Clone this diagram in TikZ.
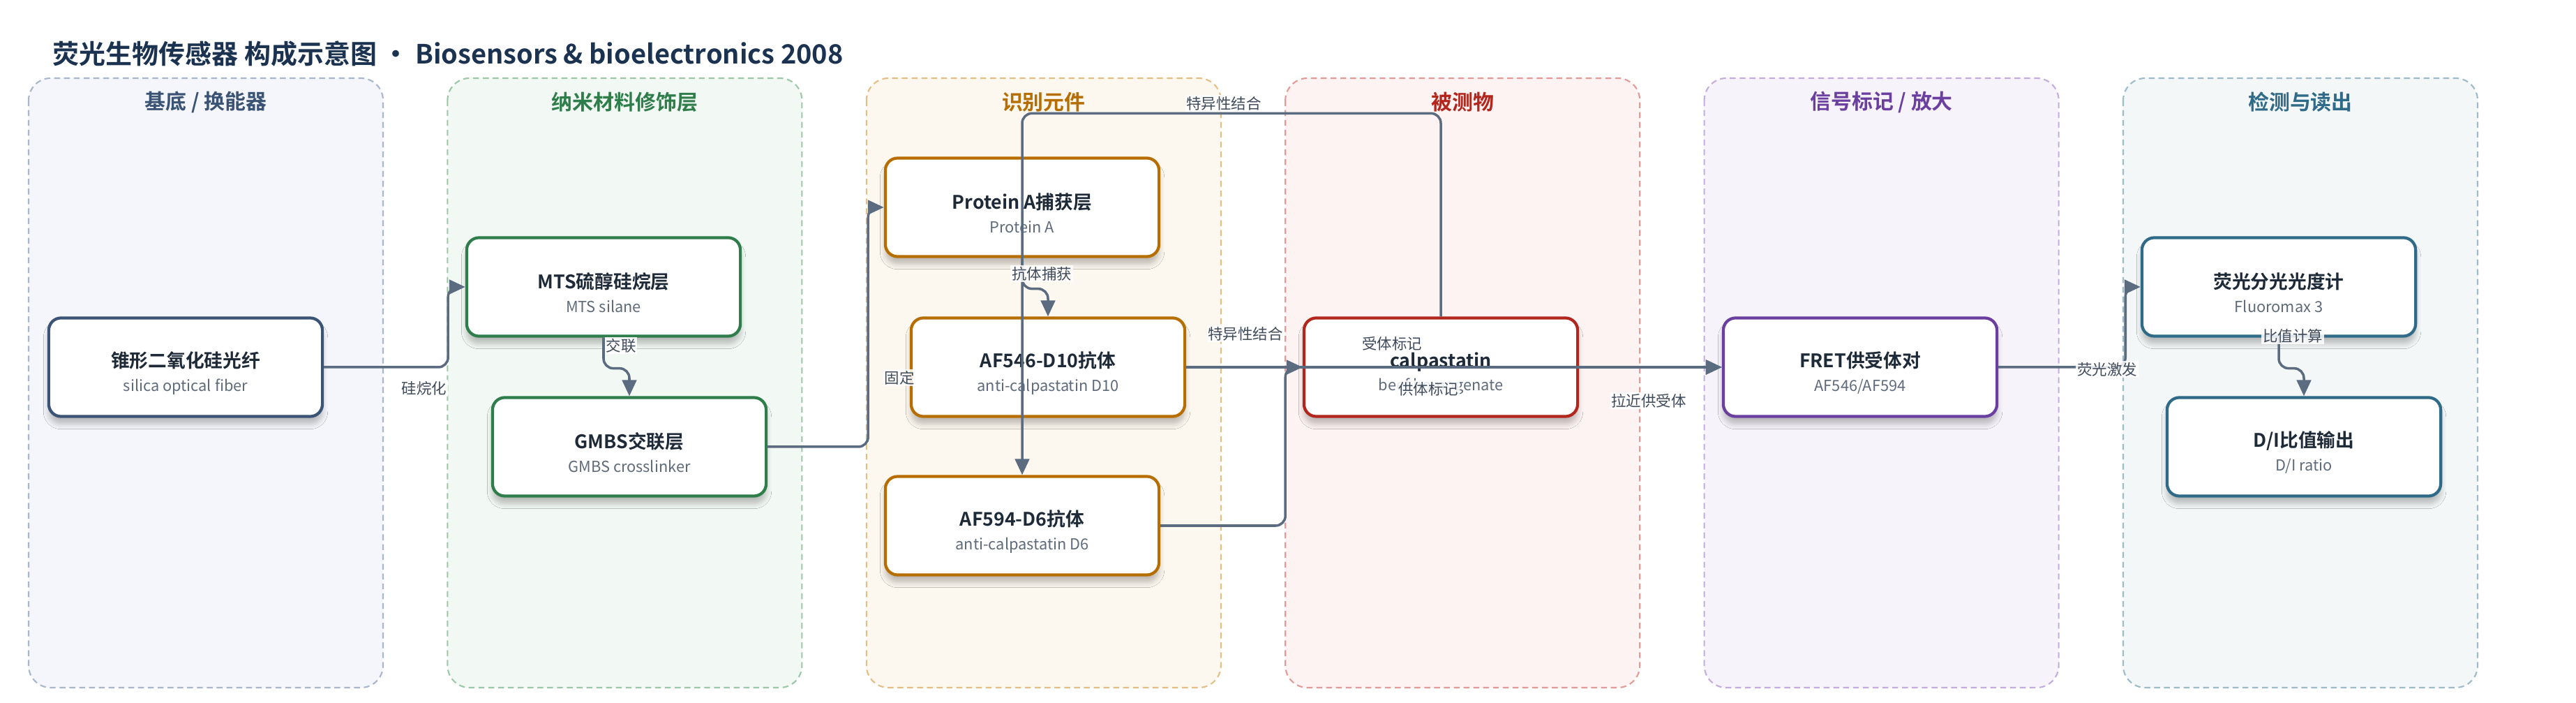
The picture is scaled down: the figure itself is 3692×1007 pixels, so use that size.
\documentclass[tikz,border=0pt]{standalone}
\usepackage{fontspec}
\setmainfont{Noto Sans CJK SC}[BoldFont={Noto Sans CJK SC Bold}]
\usetikzlibrary{arrows.meta, positioning, shadows.blur}

\definecolor{titlenavy}{HTML}{1B3350}
\definecolor{linkgray}{HTML}{5B6B80}
\definecolor{blocktitle}{HTML}{1E2A38}
\definecolor{blocksub}{HTML}{5F6B7A}
\definecolor{lblgray}{HTML}{3F4A5A}
% lane colours: fill / dashed line / header (and block border)
\definecolor{fillA}{HTML}{F5F6FB}\definecolor{lineA}{HTML}{A9B6CC}\definecolor{headA}{HTML}{3B5375}
\definecolor{fillB}{HTML}{F2F8F3}\definecolor{lineB}{HTML}{9CC7A9}\definecolor{headB}{HTML}{2E7D4A}
\definecolor{fillC}{HTML}{FDF8EF}\definecolor{lineC}{HTML}{E3BF86}\definecolor{headC}{HTML}{B76E00}
\definecolor{fillD}{HTML}{FDF3F2}\definecolor{lineD}{HTML}{E49B97}\definecolor{headD}{HTML}{B3261E}
\definecolor{fillE}{HTML}{F7F3FB}\definecolor{lineE}{HTML}{C3ADDF}\definecolor{headE}{HTML}{6B3FA0}
\definecolor{fillF}{HTML}{F3F7F8}\definecolor{lineF}{HTML}{9DBBC9}\definecolor{headF}{HTML}{2F6B88}

\newcommand{\blocktext}[2]{{\bfseries\fontsize{7.6}{8.8}\selectfont\color{blocktitle}\rule{0pt}{11.2pt}#1}\\[0.8pt]{\color{blocksub}#2}}

\tikzset{
  lane/.style={dash pattern=on 2.4pt off 1.6pt, line width=0.6pt, rounded corners=9pt},
  lanehead/.style={font=\bfseries\fontsize{8.5}{10}\selectfont},
  block/.style={draw, fill=white, line width=1.2pt, rounded corners=5pt,
    minimum width=3.92cm, minimum height=1.41cm, align=center, inner sep=0pt,
    font=\fontsize{6.2}{8.8}\selectfont,
    blur shadow={shadow xshift=0pt, shadow yshift=-3pt, shadow blur steps=6, shadow opacity=25}},
  link/.style={draw=linkgray, line width=1pt, rounded corners=4pt, -{Triangle[length=6.5pt,width=5.8pt]}},
  lbl/.style={fill=white, fill opacity=0.85, text opacity=1, text=lblgray,
    font=\fontsize{6.1}{7}\selectfont, inner sep=0.5pt},
}

\begin{document}
\begin{tikzpicture}[x=0.01cm, y=-0.01cm]
\useasboundingbox (0,0) rectangle (3692,1007);
\fill[white] (0,0) rectangle (3692,1007);

\node[anchor=west, inner sep=0pt, text=titlenavy, font=\bfseries\fontsize{10.8}{13}\selectfont] (title) at (75,77)
  {荧光生物传感器 构成示意图 · Biosensors \& bioelectronics 2008};

% lanes
\foreach \i/\sfx/\head in {0/A/{基底 / 换能器}, 1/B/纳米材料修饰层, 2/C/识别元件, 3/D/被测物, 4/E/{信号标记 / 放大}, 5/F/检测与读出} {
  \draw[lane, fill=fill\sfx, draw=line\sfx] ({41+600.4*\i},112) rectangle ++(508,873);
  \node[lanehead, text=head\sfx] (head\sfx) at ({295+600.4*\i},146) {\head};
}

% blocks
\node[block, draw=headA] (fiber) at (266,526) {\blocktext{锥形二氧化硅光纤}{silica optical fiber}};
\node[block, draw=headB] (mts) at (865,411) {\blocktext{MTS硫醇硅烷层}{MTS silane}};
\node[block, draw=headB] (gmbs) at (902,640) {\blocktext{GMBS交联层}{GMBS crosslinker}};
\node[block, draw=headC] (prota) at (1465,297) {\blocktext{Protein A捕获层}{Protein A}};
\node[block, draw=headC] (af546) at (1502,526) {\blocktext{AF546-D10抗体}{anti-calpastatin D10}};
\node[block, draw=headC] (af594) at (1465,753) {\blocktext{AF594-D6抗体}{anti-calpastatin D6}};
\node[block, draw=headD] (calp) at (2065,526) {\blocktext{calpastatin}{beef homogenate}};
\node[block, draw=headE] (fret) at (2666,526) {\blocktext{FRET供受体对}{AF546/AF594}};
\node[block, draw=headF] (fluoro) at (3266,411) {\blocktext{荧光分光光度计}{Fluoromax 3}};
\node[block, draw=headF] (ratio) at (3302,640) {\blocktext{D/I比值输出}{D/I ratio}};

% links
\draw[link] (fiber.east) -- ++(178,0) |- (mts.west);
\draw[link] (mts.south) -- ++(0,44) -| (gmbs.north);
\draw[link] (gmbs.east) -- ++(144,0) |- (prota.west);
\draw[link] (prota.south) -- ++(0,44) -| (af546.north);
\draw[link] (af546.east) -- (calp.west);
\draw[link] (calp.north) -- ++(0,-291) -| (af594.north);
\draw[link] (af594.east) -- ++(179,0) |- (fret.west);
\draw[link] (af546.east) -- (fret.west);
\draw[link] (calp.east) -- (fret.west);
\draw[link] (fret.east) -- ++(182,0) |- (fluoro.west);
\draw[link] (fluoro.south) -- ++(0,44) -| (ratio.north);

% link labels
\node[lbl] (l-silan) at (608,556) {硅烷化};
\node[lbl] (l-cross) at (890,495) {交联};
\node[lbl] (l-fix) at (1289,541) {固定};
\node[lbl] (l-capt) at (1493,392) {抗体捕获};
\node[lbl] (l-bind1) at (1785,478) {特异性结合};
\node[lbl] (l-bind2) at (1754,148) {特异性结合};
\node[lbl] (l-acc) at (1995,492) {受体标记};
\node[lbl] (l-don) at (2047,557) {供体标记};
\node[lbl] (l-near) at (2363,574) {拉近供受体};
\node[lbl] (l-exc) at (3020,529) {荧光激发};
\node[lbl] (l-ratio) at (3286,481) {比值计算};
\end{tikzpicture}
\end{document}
